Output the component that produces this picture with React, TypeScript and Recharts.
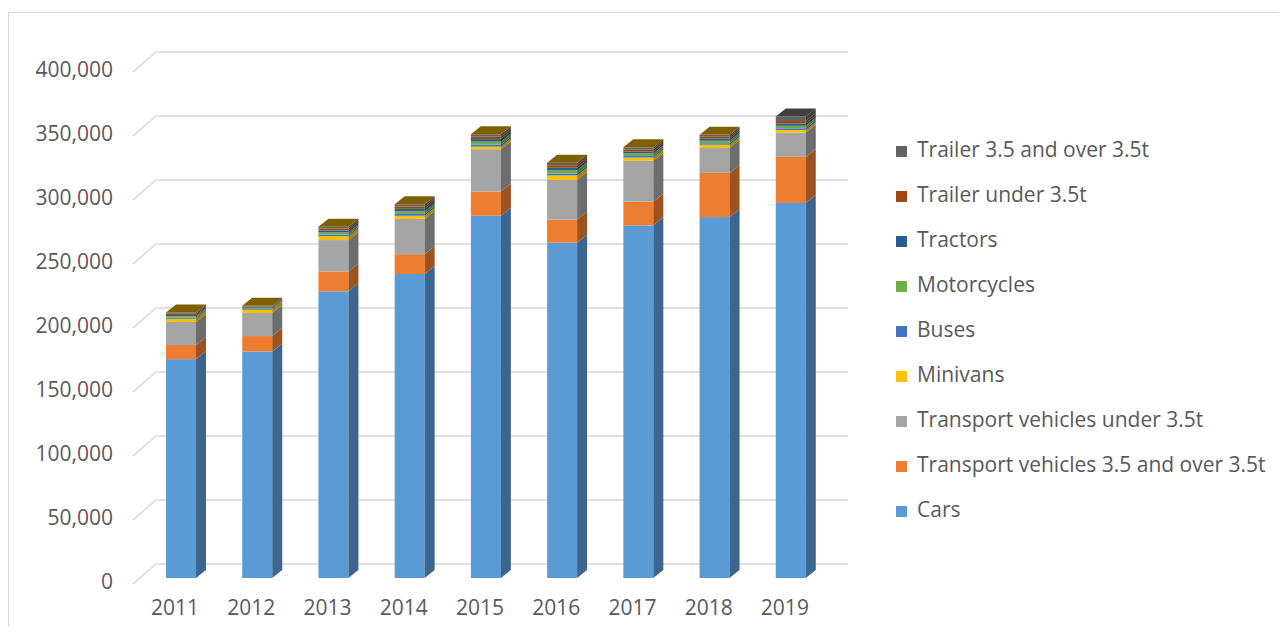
import React from "react";
import { BarChart, Bar, XAxis, YAxis, CartesianGrid } from "recharts";

const YEARS = ["2011", "2012", "2013", "2014", "2015", "2016", "2017", "2018", "2019"];

const CARS = [171000, 177000, 224000, 237500, 283000, 262000, 275500, 282000, 293000];
const TRANSPORT_OVER = [11000, 12000, 15500, 15500, 19000, 18000, 18500, 34500, 36000];
const TRANSPORT_UNDER = [18000, 18000, 24500, 27500, 33000, 31000, 32000, 19500, 19000];
const MINIVANS = [2500, 2500, 3000, 2500, 2000, 3500, 2500, 2500, 2000];
const BUSES = [800, 600, 1200, 1400, 1500, 1500, 1200, 1200, 1300];
const MOTORCYCLES = [1200, 800, 1800, 2200, 2400, 2500, 2000, 1900, 2000];
const TRACTORS = [1000, 600, 1500, 1800, 2000, 2000, 1600, 1600, 1800];
const TRAILER_UNDER = [1000, 600, 1500, 1800, 1900, 2000, 1600, 1500, 1900];
const TRAILER_OVER = [1000, 600, 1500, 1800, 1900, 2000, 1600, 1500, 3500];

const SERIES = [
  { key: "cars", name: "Cars", values: CARS },
  { key: "transportOver", name: "Transport vehicles 3.5 and over 3.5t", values: TRANSPORT_OVER },
  { key: "transportUnder", name: "Transport vehicles under 3.5t", values: TRANSPORT_UNDER },
  { key: "minivans", name: "Minivans", values: MINIVANS },
  { key: "buses", name: "Buses", values: BUSES },
  { key: "motorcycles", name: "Motorcycles", values: MOTORCYCLES },
  { key: "tractors", name: "Tractors", values: TRACTORS },
  { key: "trailerUnder", name: "Trailer under 3.5t", values: TRAILER_UNDER },
  { key: "trailerOver", name: "Trailer 3.5 and over 3.5t", values: TRAILER_OVER },
];

const COLORS = [
  "#5B9BD5",
  "#ED7D31",
  "#A5A5A5",
  "#FFC000",
  "#4472C4",
  "#70AD47",
  "#255E91",
  "#9E480E",
  "#636363",
];

const Y_TICKS = [0, 50000, 100000, 150000, 200000, 250000, 300000, 350000, 400000];

const data = YEARS.map((year, i) => {
  const row: Record<string, string | number> = { year };
  SERIES.forEach((s) => {
    row[s.key] = s.values[i];
  });
  return row;
});

const FONT = "'Open Sans', sans-serif";
const TEXT = "#595959";
const GRID = "#d6d6d6";
const DX = 10;
const DY = 8;

const shade = (hex: string, f: number) => {
  const n = parseInt(hex.slice(1), 16);
  const r = Math.round(((n >> 16) & 255) * f);
  const g = Math.round(((n >> 8) & 255) * f);
  const b = Math.round((n & 255) * f);
  return `rgb(${r},${g},${b})`;
};

// fake 3d: front face, darker right side, and a lid on the top series
const makeShape = (color: string, isTop: boolean) => (props: any) => {
  const { x, y, width, height, index } = props;
  if (x == null || y == null) return null;
  const h = Math.max(0, height);
  const side = shade(color, 0.66);
  const topColor = index === YEARS.length - 1 ? "#3f3f3f" : "#7f6000";
  return (
    <g>
      <rect x={x} y={y} width={width} height={h} fill={color} />
      <polygon
        points={`${x + width},${y} ${x + width + DX},${y - DY} ${x + width + DX},${y + h - DY} ${x + width},${y + h}`}
        fill={side}
      />
      {isTop && (
        <polygon
          points={`${x},${y} ${x + DX},${y - DY} ${x + width + DX},${y - DY} ${x + width},${y}`}
          fill={topColor}
        />
      )}
    </g>
  );
};

const gridLine = (p: any) => {
  const { x1, x2, y1, index } = p;
  return (
    <polyline
      key={`grid-${index}`}
      points={`${x1 - 10},${y1 + 6} ${x1 + 13},${y1 - 14} ${x2 + 19},${y1 - 14}`}
      fill="none"
      stroke={GRID}
      strokeWidth={1.3}
    />
  );
};

const ChartLegend = () => (
  <div
    style={{
      position: "absolute",
      left: 888,
      top: 118,
      fontFamily: FONT,
      fontSize: 21,
      color: TEXT,
    }}
  >
    {SERIES.map((s, i) => ({ s, c: COLORS[i] }))
      .reverse()
      .map(({ s, c }) => (
        <div key={s.key} style={{ display: "flex", alignItems: "center", height: 45 }}>
          <span
            style={{
              display: "inline-block",
              width: 11,
              height: 11,
              background: c,
              marginRight: 10,
              marginTop: 5,
            }}
          />
          <span>{s.name}</span>
        </div>
      ))}
  </div>
);

export default function App() {
  return (
    <div style={{ position: "relative", width: 1271, height: 619, background: "#fff" }}>
      <div
        style={{
          position: "absolute",
          left: 0,
          top: 4,
          width: 1271,
          height: 615,
          borderTop: "1px solid #d9d9d9",
          borderLeft: "1px solid #d9d9d9",
          boxSizing: "border-box",
        }}
      />
      <BarChart
        width={1271}
        height={619}
        data={data}
        margin={{ top: 58, right: 450, left: 0, bottom: 9 }}
        barSize={30}
        style={{ position: "absolute", left: 0, top: 0 }}
      >
        <CartesianGrid vertical={false} horizontal={gridLine} />
        <XAxis
          dataKey="year"
          axisLine={false}
          tickLine={false}
          tickSize={0}
          tickMargin={22}
          height={40}
          tick={{ fill: TEXT, fontFamily: FONT, fontSize: 21, dx: -6 }}
        />
        <YAxis
          width={135}
          domain={[0, 400000]}
          ticks={Y_TICKS}
          axisLine={false}
          tickLine={false}
          tickSize={0}
          tickMargin={30}
          tickFormatter={(v: number) => v.toLocaleString("en-US")}
          tick={{ fill: TEXT, fontFamily: FONT, fontSize: 21, dy: 4 }}
        />
        {SERIES.map((s, i) => (
          <Bar
            key={s.key}
            dataKey={s.key}
            name={s.name}
            stackId="a"
            fill={COLORS[i]}
            isAnimationActive={false}
            shape={makeShape(COLORS[i], i === SERIES.length - 1)}
          />
        ))}
      </BarChart>
      <ChartLegend />
    </div>
  );
}
